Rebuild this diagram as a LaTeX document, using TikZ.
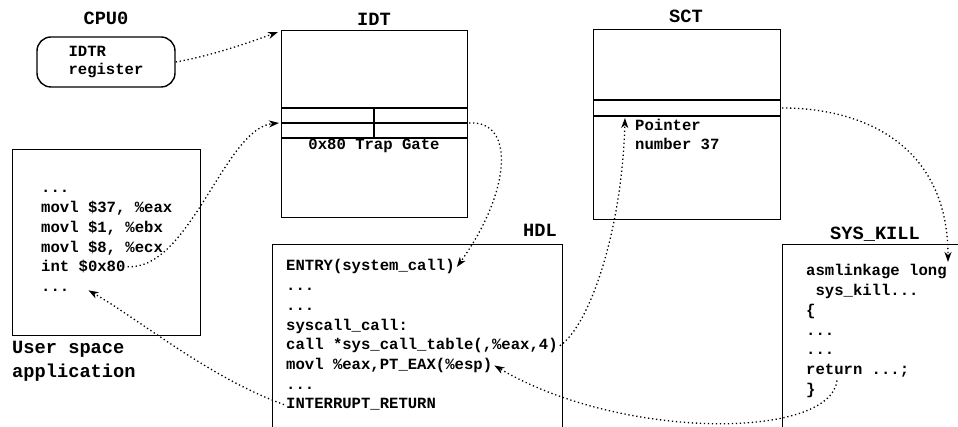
\documentclass[tikz,border=0pt]{standalone}
\usepackage{fontspec}
\setmonofont{Liberation Mono}
\usetikzlibrary{arrows.meta,calc}
\newcommand{\elide}{...}

\begin{document}
\begin{tikzpicture}[x=1pt,y=-1pt,
  box/.style={draw, line width=1.4pt, inner sep=0pt, anchor=north west},
  title/.style={font=\ttfamily\bfseries\fontsize{18.7}{24}\selectfont, anchor=base, inner sep=0pt},
  code/.style={font=\ttfamily\bfseries\fontsize{15.6}{19.7}\selectfont, anchor=base west, inner sep=2pt},
  link/.style={line width=1.3pt, dash pattern=on 1.3pt off 2.7pt, -{Stealth[length=10pt,width=7pt,inset=3pt]}},
]
\useasboundingbox (0,0) rectangle (958,427);
\clip (0,0) rectangle (958,427);

% CPU register
\node[title] (cpulabel) at (106,25) {CPU0};
\node[draw, line width=1.4pt, rounded corners=14pt, minimum width=138pt, minimum height=50pt, align=left,
      font=\ttfamily\bfseries\fontsize{15.6}{18}\selectfont] (cpu) at (106,62) {IDTR\\register};

% interrupt descriptor table
\node[title] (idtlabel) at (374,26) {IDT};
\node[box, minimum width=186pt, minimum height=187pt] (idt) at (281,30) {};
\draw[line width=1.4pt] (281,108) -- (467,108) (281,123) -- (467,123) (281,138) -- (467,138) (374,108) -- (374,138);
\node[code, anchor=base] (gate) at (374,150) {0x80 Trap Gate};
\coordinate (idttop) at (278,32);
\coordinate (gatein) at (279,123);
\coordinate (gateout) at (469,123);

% system call table
\node[title] (sctlabel) at (686,23) {SCT};
\node[box, minimum width=187pt, minimum height=190pt] (sct) at (593,29) {};
\draw[line width=1.4pt] (593,100) -- (780,100) (593,116) -- (780,116);
\node[code] (ptr) at (633,131) {Pointer};
\node[code] (ptrnum) at (633,150) {number 37};
\coordinate (sctrow) at (782,108);
\coordinate (ptr37) at (625,118);

% user space program
\node[box, minimum width=188pt, minimum height=186pt] (user) at (12,149) {};
\foreach \src [count=\i from 0] in {\elide, {movl \$37, \%eax}, {movl \$1, \%ebx}, {movl \$8, \%ecx}, {int \$0x80}, \elide}
  \node[code] (u\i) at (39,{193+19.7*\i}) {\src};
\node[title, anchor=north west, align=left] (userlabel) at (12,341) {User space\\application};
\coordinate (back) at ($(u5.east)+(17,0)$);

% handler
\node[title] (hdllabel) at (540,237) {HDL};
\node[box, minimum width=290pt, minimum height=200pt] (hdl) at (272,244) {};
\foreach \src [count=\i from 0] in {{ENTRY(system\_call)}, \elide, \elide, {syscall\_call:}, {call *sys\_call\_table(,\%eax,4)}, {movl \%eax,PT\_EAX(\%esp)}, \elide, {INTERRUPT\_RETURN}}
  \node[code] (h\i) at (284,{271+19.7*\i}) {\src};

% sys_kill routine
\node[box, minimum width=200pt, minimum height=200pt] (kill) at (782,244) {};
\node[title] (killlabel) at (875,240) {SYS\_KILL};
\foreach \src [count=\i from 0] in {{asmlinkage long}, {\ sys\_kill\elide}, \{, \elide, \elide, {return \elide;}, \}}
  \node[code] (k\i) at (804,{276+19.7*\i}) {\src};
\coordinate (killtop) at (948,262);
\coordinate (retstart) at ($(k5.base west)+(33,6)$);

% control flow
\draw[link] (cpu.east) .. controls (210,56) and (245,44) .. (idttop);
\draw[link] (u4.east) .. controls (190,270) and (225,128) .. (gatein);
\draw[link] (gateout) .. controls (515,120) and (512,190) .. (h0.east);
\draw[link] (h4.east) .. controls (590,325) and (622,230) .. (ptr37);
\draw[link] (sctrow) .. controls (870,108) and (948,150) .. (killtop);
\draw[link] (retstart) .. controls (830,440) and (620,440) .. (h5.east);
\draw[link] (h7.west) .. controls (210,378) and (140,320) .. (back);
\end{tikzpicture}
\end{document}
